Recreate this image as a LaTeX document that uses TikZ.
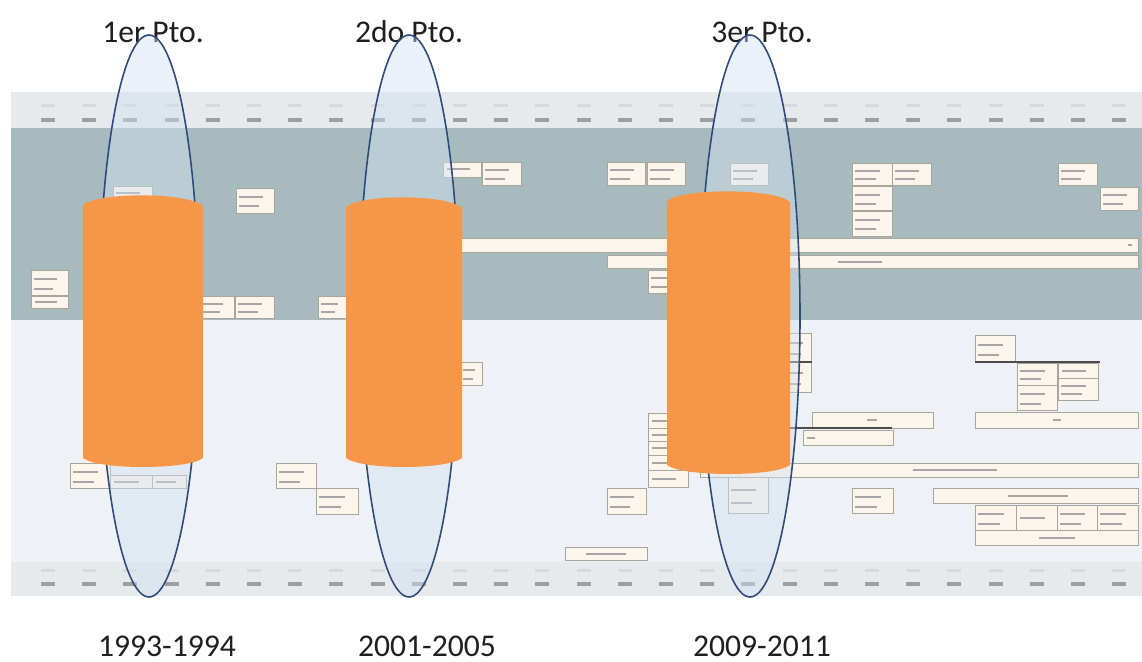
\documentclass[tikz,border=0pt]{standalone}
\usepackage{fontspec}
\setmainfont{Carlito}
\definecolor{axisgray}{HTML}{E7EAED}
\definecolor{bandteal}{HTML}{A7BBBE}
\definecolor{bandlight}{HTML}{EEF2F7}
\definecolor{boxcream}{HTML}{FCF5EB}
\definecolor{boxline}{HTML}{A9A59D}
\definecolor{ptoorange}{HTML}{F79646}
\definecolor{ptoblue}{HTML}{2E4A7A}
\definecolor{ptofill}{HTML}{D3E1F0}
\tikzset{
  evbox/.style={draw=boxline,fill=boxcream,line width=.4pt},
  txtline/.style={fill=gray!70},
  ptolabel/.style={anchor=base,inner sep=1pt,text depth=0pt,font=\fontsize{18}{20}\selectfont,text=black!88},
  ptoring/.style={draw=ptoblue,line width=.9pt,fill=ptofill,fill opacity=.45},
  ptocyl/.style={fill=ptoorange}
}
\begin{document}
\begin{tikzpicture}[x=0.02cm,y=-0.02cm]
\useasboundingbox[fill=white] (0,0) rectangle (1142,662);

\begin{scope}
\fill[axisgray] (11,92) rectangle (1142,128);
\fill[bandteal] (11,128) rectangle (1142,320);
\fill[bandlight] (11,320) rectangle (1142,562);
\fill[axisgray] (11,562) rectangle (1142,596);
\foreach \i in {0,...,26}
{
    \fill[gray!30] ({41+41.2*\i},104) rectangle +(14,3);
    \fill[gray!75] ({41+41.2*\i},118) rectangle +(14,4);
    \fill[gray!30] ({41+41.2*\i},569) rectangle +(14,3);
    \fill[gray!75] ({41+41.2*\i},582) rectangle +(14,4);
}
\end{scope}

\begin{scope}
\foreach \a/\b/\c/\d in {113/186/152/205,236/188/274/213,31/270/68/295,198/296/234/318,
  235/296/274/318,318/296/346/318,482/162/521/185,607/162/645/185,647/162/685/185,
  730/163/768/185,852/163/892/185,892/163/931/185,852/186/892/210,852/211/892/236,
  1058/163/1097/185,1100/187/1138/210,648/270/688/293,70/463/110/488,276/463/316/488,
  316/488/358/514,460/362/482/385,607/488/646/514,728/477/768/513,852/488/893/513,
  975/335/1015/362,1017/363/1057/385,1017/385/1057/410,1058/378/1098/400,
  975/505/1016/530,1057/505/1097/530,1097/505/1138/530,785/333/811/362,785/362/811/392}
{
    \draw[evbox] (\a,\b) rectangle (\c,\d);
    \fill[txtline] ({\a+3},{0.68*\b+0.32*\d}) rectangle ({0.3*\a+0.7*\c},{0.68*\b+0.32*\d+2});
    \fill[txtline] ({\a+3},{0.3*\b+0.7*\d}) rectangle ({0.4*\a+0.6*\c},{0.3*\b+0.7*\d+2});
}
\foreach \a/\b/\c/\d in {443/162/481/177,31/296/68/308,110/475/152/488,152/475/186/488,
  1058/363/1098/378,1016/505/1057/530,648/413/688/428,648/428/688/441,648/441/688/455,
  648/455/688/470,648/470/688/487}
{
    \draw[evbox] (\a,\b) rectangle (\c,\d);
    \fill[txtline] ({\a+4},{0.5*\b+0.5*\d-1}) rectangle ({0.3*\a+0.7*\c},{0.5*\b+0.5*\d+1});
}
\foreach \a/\b/\c/\d/\m/\w in {455/238/1138/252/1130/2,607/255/1138/268/860/22,
  812/412/933/428/872/5,803/430/893/445/811/4,975/412/1138/428/1057/4,
  700/463/1138/477/955/42,933/488/1138/503/1038/30,975/530/1138/545/1057/18,
  565/547/647/560/606/20}
{
    \draw[evbox] (\a,\b) rectangle (\c,\d);
    \fill[txtline] ({\m-\w},{0.5*\b+0.5*\d-1}) rectangle ({\m+\w},{0.5*\b+0.5*\d+1});
}
\draw[black!70,line width=.8pt] (787,362)--(812,362);
\draw[black!70,line width=.8pt] (790,428)--(892,428);
\draw[black!70,line width=.6pt] (975,362)--(1100,362);
\end{scope}

\foreach \x/\t/\n in {153/1er Pto./a,409/2do Pto./b,762/3er Pto./c}
{
    \node[ptolabel] (ttl\n) at (\x,43) {\t};
}
\foreach \x/\t/\n in {167/1993-1994/a,427/2001-2005/b,762/2009-2011/c}
{
    \node[ptolabel] (yrs\n) at (\x,656) {\t};
}

\foreach \x in {149,409,750}
{
    \draw[ptoring] (\x,316) ellipse [x radius=50,y radius=281];
}

\foreach \a/\b/\t/\u in {83/203/192/470,346/462/194/470,667/790/188/477}
{
    \fill[ptocyl] (\a,{\t+13}) .. controls ({\a+15},\t) and ({\b-15},\t) .. (\b,{\t+14})
      -- (\b,{\u-12}) .. controls ({\b-15},\u) and ({\a+15},\u) .. (\a,{\u-12}) -- cycle;
}
\end{tikzpicture}
\end{document}
